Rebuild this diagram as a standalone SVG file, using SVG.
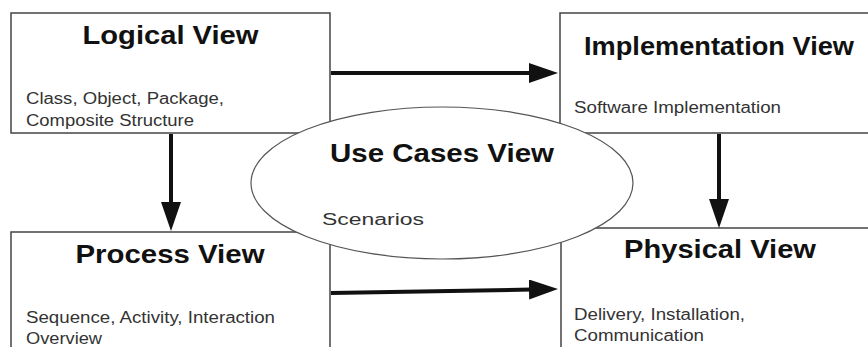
<svg xmlns="http://www.w3.org/2000/svg" width="868" height="347" viewBox="0 0 868 347">
<style>
.box{fill:#fff;stroke:#444;stroke-width:1.5}
.ell{fill:#fff;stroke:#555;stroke-width:1.2}
.title{font-family:"Liberation Sans",Arial,sans-serif;font-weight:bold;font-size:26px;fill:#111}
.sub{font-family:"Liberation Sans",Arial,sans-serif;font-size:16px;fill:#333}
.conn{stroke:#111;stroke-width:4;fill:none;marker-end:url(#ah)}
</style>
<defs>
<marker id="ah" markerUnits="userSpaceOnUse" viewBox="0 0 29 20" refX="14" refY="10" markerWidth="29" markerHeight="20" orient="auto">
<path d="M0,0 L29,10 L0,20 Z" fill="#111"/>
</marker>
</defs>
<rect width="868" height="347" fill="#fff"/>
<g id="logical">
<rect class="box" x="11" y="13" width="319" height="120"/>
<text class="title" x="170.5" y="44" text-anchor="middle" textLength="176" lengthAdjust="spacingAndGlyphs">Logical View</text>
<text class="sub" x="26" y="104" textLength="198" lengthAdjust="spacingAndGlyphs">Class, Object, Package,</text>
<text class="sub" x="26" y="126" textLength="168" lengthAdjust="spacingAndGlyphs">Composite Structure</text>
</g>
<g id="implementation">
<rect class="box" x="560" y="13" width="320" height="120"/>
<text class="title" x="719" y="55" text-anchor="middle" textLength="270" lengthAdjust="spacingAndGlyphs">Implementation View</text>
<text class="sub" x="574" y="113" textLength="207" lengthAdjust="spacingAndGlyphs">Software Implementation</text>
</g>
<g id="process">
<rect class="box" x="11" y="232" width="319" height="130"/>
<text class="title" x="170" y="263" text-anchor="middle" textLength="189" lengthAdjust="spacingAndGlyphs">Process View</text>
<text class="sub" x="26" y="323" textLength="249" lengthAdjust="spacingAndGlyphs">Sequence, Activity, Interaction</text>
<text class="sub" x="26" y="344" textLength="76" lengthAdjust="spacingAndGlyphs">Overview</text>
</g>
<g id="physical">
<rect class="box" x="561" y="228" width="320" height="130"/>
<text class="title" x="720" y="258" text-anchor="middle" textLength="192" lengthAdjust="spacingAndGlyphs">Physical View</text>
<text class="sub" x="574" y="320" textLength="171" lengthAdjust="spacingAndGlyphs">Delivery, Installation,</text>
<text class="sub" x="574" y="341" textLength="130" lengthAdjust="spacingAndGlyphs">Communication</text>
</g>
<g id="usecases">
<ellipse class="ell" cx="442" cy="183" rx="191" ry="76"/>
<text class="title" x="442" y="162" text-anchor="middle" textLength="224" lengthAdjust="spacingAndGlyphs">Use Cases View</text>
<text class="sub" x="322" y="225" textLength="102" lengthAdjust="spacingAndGlyphs">Scenarios</text>
</g>
<g id="connectors">
<line class="conn" x1="331" y1="73" x2="543" y2="73"/>
<line class="conn" x1="171" y1="134" x2="171" y2="216"/>
<line class="conn" x1="719" y1="134" x2="719" y2="213"/>
<line class="conn" x1="331" y1="293" x2="543" y2="289.3"/>
</g>
</svg>
